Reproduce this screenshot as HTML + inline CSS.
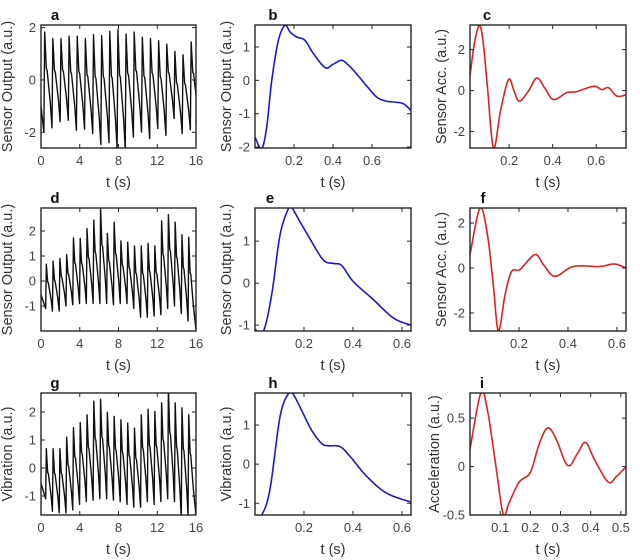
<!DOCTYPE html>
<html><head><meta charset="utf-8"><style>
html,body{margin:0;padding:0;background:#fff;}
svg{display:block;font-family:"Liberation Sans",Arial,sans-serif;}
.tick{font-size:13px;fill:#444;}
.lab{font-size:14.5px;fill:#333;}
.ttl{font-size:15px;font-weight:bold;fill:#111;}
</style></head><body>
<svg id="fig" width="640" height="560" viewBox="0 0 640 560"></svg>
<script>
// ---------- data ----------
const aPeaks=[1.83,1.58,1.58,1.67,1.67,1.58,1.73,1.69,1.86,1.92,1.76,1.83,1.63,1.58,1.5,1.37,1.09,0.96,1.45];
const aTroughs=[-1.99,-1.83,-1.6,-1.54,-1.92,-1.88,-2.05,-2.47,-2.4,-2.63,-2.63,-2.18,-1.99,-2.24,-1.86,-2.12,-1.47,-2.05,-1.9,-1.6];
const dPeaks=[0.67,0.79,0.9,1.05,1.72,1.7,2.09,2.43,2.9,1.9,2.35,1.6,1.55,1.4,1.4,1.5,1.4,2.4,2.65,2.35,1.85,1.75];
const dTroughs=[-1.1,-1.2,-1.2,-1.0,-0.95,-0.9,-0.9,-0.9,-0.9,-0.9,-0.95,-0.9,-0.9,-1.1,-1.45,-1.45,-1.4,-1.35,-1.1,-1.0,-1.3,-1.6,-1.95];
const gPeaks=[0.69,0.69,0.69,1.1,1.45,1.62,1.9,2.39,2.45,1.99,1.84,1.72,1.6,1.42,1.9,2.1,2.02,2.33,2.8,2.33,2.15,1.9];
const gTroughs=[-1.1,-1.55,-1.6,-1.6,-1.5,-1.3,-1.2,-1.15,-1.1,-1.1,-1.15,-1.2,-1.3,-1.4,-1.4,-1.2,-1.3,-1.2,-1.1,-1.2,-1.8,-1.7,-1.7];

const bT=[0,0.034,0.06,0.086,0.12,0.154,0.18,0.214,0.256,0.3,0.36,0.40,0.444,0.48,0.52,0.57,0.624,0.67,0.71,0.76,0.8];
const bY=[-1.7,-2.05,-1.4,0,1.2,1.65,1.45,1.3,1.2,0.8,0.38,0.48,0.6,0.45,0.2,-0.15,-0.5,-0.62,-0.65,-0.7,-0.9];
const cT=[0.02,0.04,0.063,0.08,0.1,0.128,0.16,0.197,0.222,0.247,0.29,0.327,0.365,0.404,0.465,0.51,0.588,0.626,0.657,0.695,0.738];
const cY=[0.7,2.3,3.17,2.4,0.2,-2.8,-1.0,0.54,0.0,-0.52,0.0,0.62,0.1,-0.44,-0.1,-0.05,0.21,0.05,0.14,-0.27,-0.2];
const eT=[0,0.034,0.068,0.102,0.136,0.15,0.184,0.224,0.279,0.32,0.354,0.401,0.483,0.565,0.637];
const eY=[-1.1,-1.15,-0.28,1.14,1.77,1.8,1.46,1.06,0.55,0.47,0.42,0.04,-0.39,-0.83,-1.0];
const fT=[0,0.041,0.071,0.095,0.116,0.143,0.17,0.204,0.265,0.3,0.347,0.422,0.53,0.59,0.637];
const fY=[0.6,2.67,1.5,-0.74,-2.8,-1.2,-0.15,-0.07,0.6,0.15,-0.37,0.07,0.07,0.18,0];
const hT=[0,0.027,0.061,0.102,0.136,0.156,0.19,0.231,0.272,0.3,0.347,0.388,0.456,0.537,0.637];
const hY=[-1.3,-1.3,-0.65,1.21,1.8,1.79,1.38,0.87,0.53,0.47,0.45,0.2,-0.31,-0.74,-0.97];
const iT=[0,0.036,0.058,0.086,0.11,0.13,0.163,0.2,0.23,0.258,0.286,0.324,0.357,0.383,0.413,0.458,0.486,0.517];
const iY=[0.18,0.76,0.58,0.0,-0.49,-0.37,-0.16,-0.06,0.24,0.4,0.28,0.01,0.14,0.25,0.07,-0.16,-0.1,0.0];

const longTicks=[0,4,8,12,16];
const t246=[0.2,0.4,0.6];
const iXTicks=[0.1,0.2,0.3,0.4,0.5];

// ---------- helpers ----------
const NS="http://www.w3.org/2000/svg";
const svg=document.getElementById('fig');
function mk(tag,attrs,parent){const e=document.createElementNS(NS,tag);for(const k in attrs)e.setAttribute(k,attrs[k]);(parent||svg).appendChild(e);return e;}

function cyclic(peaks,troughs,t0,P){
  const t=[],y=[];
  t.push(0);y.push(troughs[0]*0.5);
  for(let k=0;k<peaks.length;k++){
    const tp=t0+k*P, pk=peaks[k], tr0=troughs[k], tr1=troughs[k+1];
    t.push(tp-0.1*P);y.push(tr0);
    t.push(tp);y.push(pk);
    t.push(tp+0.2*P);y.push(tr1+0.62*(pk-tr1));
    t.push(tp+0.3*P);y.push(tr1+0.6*(pk-tr1));
    t.push(tp+0.62*P);y.push(tr1+0.32*(pk-tr1));
    t.push(tp+0.7*P);y.push(tr1+0.25*(pk-tr1));
  }
  t.push(16);y.push(troughs[troughs.length-1]);
  return {t,y};
}

function smooth(T,Y,n){
  const ot=[],oy=[];
  for(let i=0;i<T.length-1;i++){
    const i0=Math.max(0,i-1),i3=Math.min(T.length-1,i+2);
    for(let s=0;s<n;s++){
      const u=s/n;
      const cr=(a,b,c,d)=>0.5*((2*b)+(-a+c)*u+(2*a-5*b+4*c-d)*u*u+(-a+3*b-3*c+d)*u*u*u);
      ot.push(cr(T[i0],T[i],T[i+1],T[i3]));oy.push(cr(Y[i0],Y[i],Y[i+1],Y[i3]));
    }
  }
  ot.push(T[T.length-1]);oy.push(Y[Y.length-1]);
  return {t:ot,y:oy};
}

let clipN=0;
function panel(o){
  const g=mk('g',{});
  
  
  const X=v=>o.L+(v-o.x0)/(o.x1-o.x0)*(o.R-o.L);
  const Yf=v=>o.B-(v-o.y0)/(o.y1-o.y0)*(o.B-o.T);
  const cid='clip'+(clipN++);
  const cp=mk('clipPath',{id:cid},g);mk('rect',{x:o.L,y:o.T,width:o.R-o.L,height:o.B-o.T},cp);
  const d=o.t.map((tv,i)=>(i?'L':'M')+X(tv).toFixed(2)+' '+Yf(o.y[i]).toFixed(2)).join('');
  const p=mk('path',{d:d,fill:'none',stroke:o.color,'stroke-width':o.sw,'stroke-linejoin':'round','clip-path':'url(#'+cid+')'},g);
  
  
  const box=mk('rect',{x:o.L,y:o.T,width:o.R-o.L,height:o.B-o.T,fill:'none',stroke:'#262626','stroke-width':1.4},g);
  
  
  o.xt.forEach(v=>{
    const x=X(v);
    mk('line',{x1:x,x2:x,y1:o.B,y2:o.B-4,stroke:'#262626'},g);
    mk('line',{x1:x,x2:x,y1:o.T,y2:o.T+4,stroke:'#262626'},g);
    const tx=mk('text',{x:x,y:o.B+17,'text-anchor':'middle',class:'tick'},g);tx.textContent=String(v);
    
    
  });
  o.yt.forEach(v=>{
    const y=Yf(v);
    mk('line',{x1:o.L,x2:o.L+4,y1:y,y2:y,stroke:'#262626'},g);
    mk('line',{x1:o.R,x2:o.R-4,y1:y,y2:y,stroke:'#262626'},g);
    const tx=mk('text',{x:o.L-5,y:y+4.5,'text-anchor':'end',class:'tick'},g);tx.textContent=String(v);
    
    
  });
  const xl=mk('text',{x:(o.L+o.R)/2,y:o.B+39,'text-anchor':'middle',class:'lab'},g);xl.textContent='t (s)';
  
  
  const yx=o.L-o.ylo, yy=(o.T+o.B)/2;
  const yl=mk('text',{x:yx,y:yy,'text-anchor':'middle',class:'lab',transform:'rotate(-90 '+yx+' '+yy+')'},g);yl.textContent=o.ylabel;
  
  
  const tt=mk('text',{x:o.tx,y:o.T-5,'text-anchor':'middle',class:'ttl'},g);tt.textContent=o.id;
  
  
}

const rows=[{T:25,B:148},{T:208,B:331},{T:393,B:515}];
const cols=[{L:41,R:196},{L:255,R:411},{L:470,R:626}];
const K='#111',BL='#1a1acc',RD='#dd2222';

let s=cyclic(aPeaks,aTroughs,0.38,0.84);
panel({id:'a',...rows[0],...cols[0],x0:0,x1:16,y0:-2.6,y1:2.1,t:s.t,y:s.y,color:K,sw:1.4,xt:longTicks,yt:[-2,0,2],ylabel:'Sensor Output (a.u.)',ylo:29,tx:55});
s=smooth(bT,bY,8);
panel({id:'b',...rows[0],...cols[1],x0:0,x1:0.8,y0:-2.03,y1:1.66,t:s.t,y:s.y,color:BL,sw:1.6,xt:t246,yt:[-2,-1,0,1],ylabel:'Sensor Output (a.u.)',ylo:24,tx:273});
s=smooth(cT,cY,8);
panel({id:'c',...rows[0],...cols[2],x0:0.02,x1:0.737,y0:-2.8,y1:3.2,t:s.t,y:s.y,color:RD,sw:1.6,xt:t246,yt:[-2,0,2],ylabel:'Sensor Acc. (a.u.)',ylo:24,tx:487});

s=cyclic(dPeaks,dTroughs,0.55,0.7);
panel({id:'d',...rows[1],...cols[0],x0:0,x1:16,y0:-2.0,y1:2.92,t:s.t,y:s.y,color:K,sw:1.4,xt:longTicks,yt:[-1,0,1,2],ylabel:'Sensor Output (a.u.)',ylo:29,tx:55});
s=smooth(eT,eY,8);
panel({id:'e',...rows[1],...cols[1],x0:0,x1:0.637,y0:-1.14,y1:1.79,t:s.t,y:s.y,color:BL,sw:1.6,xt:t246,yt:[-1,0,1],ylabel:'Sensor Output (a.u.)',ylo:24,tx:270});
s=smooth(fT,fY,8);
panel({id:'f',...rows[1],...cols[2],x0:0,x1:0.637,y0:-2.8,y1:2.67,t:s.t,y:s.y,color:RD,sw:1.6,xt:t246,yt:[-2,0,2],ylabel:'Sensor Acc. (a.u.)',ylo:24,tx:483});

s=cyclic(gPeaks,gTroughs,0.55,0.7);
panel({id:'g',...rows[2],...cols[0],x0:0,x1:16,y0:-1.68,y1:2.68,t:s.t,y:s.y,color:K,sw:1.4,xt:longTicks,yt:[-1,0,1,2],ylabel:'Vibration (a.u.)',ylo:29,tx:55});
s=smooth(hT,hY,8);
panel({id:'h',...rows[2],...cols[1],x0:0,x1:0.637,y0:-1.3,y1:1.82,t:s.t,y:s.y,color:BL,sw:1.6,xt:t246,yt:[-1,0,1],ylabel:'Vibration (a.u.)',ylo:24,tx:273});
s=smooth(iT,iY,8);
panel({id:'i',...rows[2],...cols[2],x0:0,x1:0.517,y0:-0.5,y1:0.76,t:s.t,y:s.y,color:RD,sw:1.6,xt:iXTicks,yt:[-0.5,0,0.5],ylabel:'Acceleration (a.u.)',ylo:31,tx:482});
</script>
</body></html>
